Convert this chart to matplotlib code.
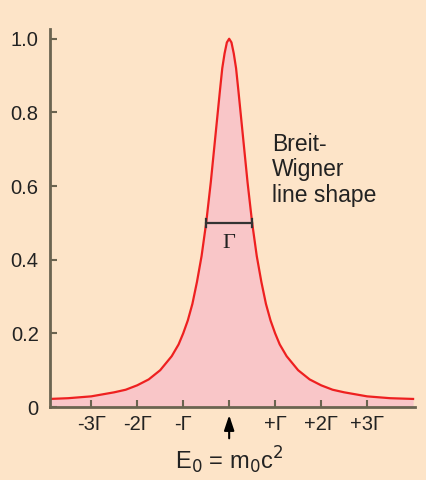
import matplotlib.pyplot as plt

# position in units of Gamma, relative height
energie = [-3.9, -3.5, -3.0, -2.5, -2.25, -2.0, -1.75, -1.5, -1.25, -1.1, -1.0, -0.9,
           -0.8, -0.7, -0.6, -0.5, -0.4, -0.3, -0.2, -0.15, -0.1, -0.05, 0.0,
           0.05, 0.1, 0.15, 0.2, 0.3, 0.4, 0.5, 0.6, 0.7, 0.8, 0.9, 1.0, 1.1,
           1.25, 1.5, 1.75, 2.0, 2.25, 2.5, 3.0, 3.5, 4.0]
hauteur = [0.022, 0.024, 0.029, 0.040, 0.047, 0.059, 0.075, 0.10, 0.138, 0.17, 0.20, 0.235,
           0.28, 0.34, 0.41, 0.50, 0.61, 0.735, 0.86, 0.92, 0.96, 0.99, 1.0,
           0.99, 0.96, 0.92, 0.86, 0.735, 0.61, 0.50, 0.41, 0.34, 0.28, 0.235, 0.20, 0.17,
           0.138, 0.10, 0.075, 0.059, 0.047, 0.040, 0.029, 0.024, 0.022]

xticks = [-3, -2, -1, 0, 1, 2, 3]
xlabels = ["-3Γ", "-2Γ", "-Γ", "", "+Γ", "+2Γ", "+3Γ"]
yticks = [0, 0.2, 0.4, 0.6, 0.8, 1.0]
ylabels = ["0", "0.2", "0.4", "0.6", "0.8", "1.0"]
fwhm = [-0.5, 0.5]

fond = "#FDE4C8"
axe = "#6B6450"
plt.rcParams['font.family'] = ['Liberation Sans', 'DejaVu Sans']

fig = plt.figure(figsize=(4.26, 4.8), dpi=100, facecolor=fond)
ax = fig.add_axes([0.117, 0.152, 0.857, 0.788], facecolor=fond)

ax.fill_between(energie, hauteur, 0, color="#F9C6C8", lw=0)
ax.plot(energie, hauteur, color="#EE2020", lw=1.6)

# barre largeur a mi-hauteur
ax.plot(fwhm, [0.5, 0.5], color="#333333", lw=1.6)
for xf in fwhm:
    ax.plot([xf, xf], [0.49, 0.51], color="#333333", lw=1.6)
ax.text(0, 0.47, "Γ", family="Liberation Serif", fontsize=16, ha="center", va="top", color="#222222")

ax.text(0.93, 0.745, "Breit-\nWigner\nline shape", fontsize=16.5, ha="left", va="top",
        color="#222222", linespacing=1.15)

ax.set_xlim(-3.9, 4.04)
ax.set_ylim(0, 1.027)
ax.set_xticks(xticks, xlabels)
ax.set_yticks(yticks, ylabels)
ax.tick_params(direction="in", length=5, width=1.5, color=axe, labelsize=14.5,
               labelcolor="#222222")
ax.tick_params(axis="y", pad=8)
ax.tick_params(axis="x", pad=6)
for s in ["top", "right"]:
    ax.spines[s].set_visible(False)
for s in ["left", "bottom"]:
    ax.spines[s].set_color(axe)
    ax.spines[s].set_linewidth(2)

ax.annotate("", xy=(0, -0.014), xytext=(0, -0.09), xycoords=("data", "axes fraction"),
            textcoords=("data", "axes fraction"), annotation_clip=False,
            arrowprops=dict(arrowstyle="-|>,head_length=0.9,head_width=0.3", color="black", lw=1.5))
ax.text(0, -0.14, r"E$_0$ = m$_0$c$^2$", transform=ax.get_xaxis_transform(),
        fontsize=17, ha="center", va="center", color="#222222")

fig.savefig("out.png", dpi=100, facecolor=fond)
